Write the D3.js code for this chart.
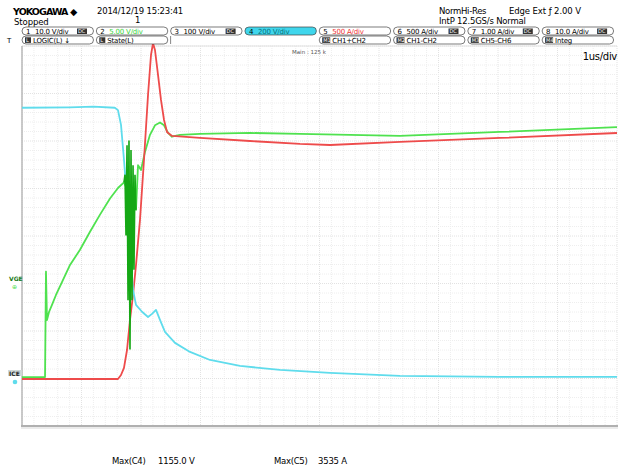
<!DOCTYPE html>
<html>
<head>
<meta charset="utf-8">
<script src="https://cdn.jsdelivr.net/npm/d3@7/dist/d3.min.js"></script>
<style>
  body { margin: 0; background: #fff; }
  svg { display: block; font-family: "DejaVu Sans", "Liberation Sans", sans-serif; }
</style>
</head>
<body>
<svg id="scope" width="619" height="470"></svg>
<script>
// waveform data: [time in us, value in channel units]
const vce = [ // C4, V
  [0, 1150], [0.8, 1152], [1.2, 1155], [1.56, 1150], [1.613, 1140], [1.664, 1078], [1.714, 931],
  [1.765, 762], [1.815, 552], [1.866, 383], [1.916, 320], [2.017, 291],
  [2.118, 269], [2.185, 282], [2.252, 299], [2.319, 257], [2.403, 206],
  [2.571, 160], [2.824, 122], [3.16, 88], [3.664, 63], [4.336, 46],
  [5.176, 34], [6.353, 21], [8.034, 17], [10, 17]
];
const ice = [ // C5, A
  [0, 0], [1.613, 0], [1.664, 42], [1.714, 116], [1.765, 305], [1.815, 621],
  [1.866, 884], [1.916, 1200], [1.983, 1674], [2.05, 2305], [2.118, 2989],
  [2.168, 3410], [2.202, 3535], [2.235, 3463], [2.286, 3200], [2.336, 2937],
  [2.387, 2726], [2.437, 2600], [2.521, 2558], [2.992, 2537], [3.832, 2505],
  [4.672, 2474], [5.176, 2463], [6.353, 2495], [8.034, 2537], [10, 2589]
];
const vge = [ // C2, V
  [0, -9.9], [0.387, -9.9], [0.403, 1.2], [0.42, -3.9], [0.454, -3.05],
  [0.504, -2.3], [0.571, -1.26], [0.672, 0.1], [0.807, 1.9], [0.975, 3.5],
  [1.143, 5.4], [1.311, 7.2], [1.479, 8.9], [1.613, 10.0], [1.714, 10.6],
  [1.916, 7.7], [1.95, 12.4], [2.0, 11.9], [2.067, 13.8], [2.151, 15.6],
  [2.235, 16.6], [2.319, 16.9], [2.387, 16.6], [2.454, 15.8], [2.521, 15.4],
  [2.655, 15.6], [2.992, 15.7], [3.832, 15.8], [4.672, 15.7], [6.353, 15.5],
  [8.034, 15.9], [10, 16.4]
];
const vgeRing = [ // gate oscillation burst during turn-on
  [1.714, 10.6], [1.731, 11.4], [1.748, 5.0], [1.765, 14.5], [1.782, -1.8],
  [1.798, 15.0], [1.815, -7.0], [1.832, 14.0], [1.849, -1.8], [1.866, 12.4],
  [1.882, 1.4], [1.899, 11.4], [1.916, 7.7]
];
// channel settings: per-div scale and ground position (divisions from centre)
const channels = [
  {name: "C2", data: vge, perDiv: 5, ground: -0.99, color: "#4fe24f"},
  {name: "C5", data: ice, perDiv: 500, ground: -3.01, color: "#ee4b4b"},
  {name: "C4", data: vce, perDiv: 200, ground: -3.05, color: "#5fdcec"}
];
const rowOne = [
  ["1", "10.0 V/div", "DC", "#000", null],
  ["2", "5.00 V/div", "DC", "#3bd43b", null],
  ["3", "100 V/div", "DC", "#000", null],
  ["4", "200 V/div", "DC", "#0a6f7a", "#3fd6ec"],
  ["5", "500 A/div", "DC", "#e33", null],
  ["6", "500 A/div", "DC", "#000", null],
  ["7", "1.00 A/div", "DC", "#000", null],
  ["8", "10.0 A/div", "DC", "#000", null]
];
const rowTwo = ["L LOGIC(L)  \u2193", "L State(L)", "", "", "M1 CH1+CH2", "M2 CH1-CH2", "M3 CH5-CH6", "M4 Integ"];
const maxLabels = [["Max(C4)", "1155.0 V"], ["Max(C5)", "3535 A"]];

const svg = d3.select("#scope");
const pLeft = 22, pRight = 617, pTop = 46, pBottom = 426;
const x = d3.scaleLinear().domain([0, 10]).range([pLeft, pRight]);
const y = d3.scaleLinear().domain([-4, 4]).range([pBottom, pTop]);

// grid
const grid = svg.append("g");
grid.selectAll(".vminor").data(d3.range(0, 10.01, 0.2)).enter().append("line")
  .attr("x1", d => x(d)).attr("x2", d => x(d)).attr("y1", pTop).attr("y2", pBottom)
  .attr("stroke", d => Math.abs(d - Math.round(d)) < 1e-6 ? "#e2e2e2" : "#eeeeee")
  .attr("stroke-dasharray", "1,1");
grid.selectAll(".hminor").data(d3.range(-4, 4.01, 0.2)).enter().append("line")
  .attr("y1", d => y(d)).attr("y2", d => y(d)).attr("x1", pLeft).attr("x2", pRight)
  .attr("stroke", d => Math.abs(d - Math.round(d)) < 1e-6 ? "#e2e2e2" : "#eeeeee")
  .attr("stroke-dasharray", "1,1");
svg.append("line").attr("x1", pLeft).attr("x2", pRight).attr("y1", pTop).attr("y2", pTop).attr("stroke", "#e2e2e2");
svg.append("line").attr("x1", pLeft).attr("x2", pLeft).attr("y1", pTop).attr("y2", pBottom).attr("stroke", "#b8b8b8").attr("stroke-width", 1.5);
svg.append("line").attr("x1", pLeft - 1).attr("x2", pRight + 1).attr("y1", pBottom).attr("y2", pBottom).attr("stroke", "#b0b0b0").attr("stroke-width", 2);
svg.append("line").attr("x1", pLeft - 1).attr("x2", pRight + 1).attr("y1", pBottom + 2).attr("y2", pBottom + 2).attr("stroke", "#e4e4e4").attr("stroke-width", 1.5);

// traces
function lineFor(ch) {
  return d3.line().x(d => x(d[0])).y(d => y(d[1] / ch.perDiv + ch.ground));
}
channels.forEach(ch => {
  svg.append("path").datum(ch.data).attr("d", lineFor(ch))
    .attr("fill", "none").attr("stroke", ch.color).attr("stroke-width", 1.8)
    .attr("stroke-linejoin", "round");
});
svg.append("path").datum(vgeRing).attr("d", lineFor(channels[0]))
  .attr("fill", "none").attr("stroke", "#15a815").attr("stroke-width", 1.6);

// header
svg.append("text").attr("x", 13).attr("y", 14.5).attr("font-size", 9.5).attr("font-weight", "bold")
  .attr("letter-spacing", -0.9).text("YOKOGAWA \u25C6");
svg.append("text").attr("x", 97).attr("y", 14).attr("font-size", 8.5).attr("letter-spacing", -0.2).text("2014/12/19 15:23:41");
svg.append("text").attr("x", 14).attr("y", 24.5).attr("font-size", 8.5).attr("letter-spacing", -0.1).text("Stopped");
svg.append("text").attr("x", 135).attr("y", 23).attr("font-size", 8.5).text("1");
svg.append("text").attr("x", 439).attr("y", 14).attr("font-size", 8.5).attr("letter-spacing", -0.3).text("NormHi-Res");
svg.append("text").attr("x", 509).attr("y", 14).attr("font-size", 8.5).attr("letter-spacing", -0.1).text("Edge Ext \u0192 2.00 V");
svg.append("text").attr("x", 439).attr("y", 24).attr("font-size", 8.5).attr("letter-spacing", -0.2).text("IntP 12.5GS/s  Normal");
svg.append("text").attr("x", 7).attr("y", 43).attr("font-size", 7).text("T");

const boxW = 73.5, boxX0 = 22;
rowOne.forEach((b, i) => {
  const bx = boxX0 + i * 74.3;
  svg.append("rect").attr("x", bx).attr("y", 27).attr("width", boxW - 2).attr("height", 8)
    .attr("rx", 4).attr("fill", b[4] || "#fff").attr("stroke", "#444").attr("stroke-width", 0.7);
  svg.append("text").attr("x", bx + 4).attr("y", 33.8).attr("font-size", 7).text(b[0]);
  svg.append("text").attr("x", bx + 13).attr("y", 33.8).attr("font-size", 7).attr("letter-spacing", -0.2)
    .attr("fill", b[3]).text(b[1]);
  if (i !== 1 && i !== 3 && i !== 4) {
    svg.append("rect").attr("x", bx + 55).attr("y", 28.5).attr("width", 10).attr("height", 5.5).attr("fill", "#333");
    svg.append("text").attr("x", bx + 56).attr("y", 33.2).attr("font-size", 5).attr("fill", "#fff").text(b[2]);
  }
});
rowTwo.forEach((t, i) => {
  const bx = boxX0 + i * 74.3;
  if (i === 3) return;
  if (i === 2) {
    svg.append("line").attr("x1", bx).attr("x2", bx).attr("y1", 36).attr("y2", 44).attr("stroke", "#555").attr("stroke-width", 0.7);
    return;
  }
  svg.append("rect").attr("x", bx).attr("y", 36).attr("width", boxW - 2).attr("height", 8)
    .attr("rx", 4).attr("fill", "#fff").attr("stroke", "#444").attr("stroke-width", 0.7);
  const parts = t.split(" ");
  svg.append("rect").attr("x", bx + 3).attr("y", 37.3).attr("width", parts[0].length > 1 ? 8 : 6).attr("height", 5.6).attr("fill", "#333");
  svg.append("text").attr("x", bx + 4).attr("y", 42.2).attr("font-size", 5).attr("fill", "#fff").text(parts[0]);
  svg.append("text").attr("x", bx + (parts[0].length > 1 ? 13 : 11)).attr("y", 42.6).attr("font-size", 7)
    .attr("letter-spacing", -0.2).text(parts.slice(1).join(" "));
});

svg.append("text").attr("x", 292).attr("y", 54).attr("font-size", 5.5).attr("fill", "#555").text("Main : 125 k");
svg.append("text").attr("x", 617).attr("y", 60).attr("font-size", 10).attr("text-anchor", "end").attr("letter-spacing", -0.3).text("1us/div");

// ground markers
svg.append("text").attr("x", 9).attr("y", 281).attr("font-size", 6).attr("font-weight", "bold").attr("fill", "#1a7a1a").text("VGE");
svg.append("text").attr("x", 12).attr("y", 289).attr("font-size", 6).attr("fill", "#4fe24f").text("\u2295");
svg.append("rect").attr("x", 8).attr("y", 370).attr("width", 14).attr("height", 6).attr("fill", "#cfd8d8");
svg.append("text").attr("x", 9).attr("y", 375.5).attr("font-size", 6).attr("font-weight", "bold").attr("fill", "#222").text("ICE");
svg.append("circle").attr("cx", 15).attr("cy", 382).attr("r", 2.3).attr("fill", "#5fdcec");

// measurements
maxLabels.forEach((m, i) => {
  const mx = [112, 274][i];
  svg.append("text").attr("x", mx).attr("y", 464).attr("font-size", 8.5).attr("letter-spacing", -0.3).text(m[0]);
  svg.append("text").attr("x", mx + [46, 44][i]).attr("y", 464).attr("font-size", 8.5).attr("letter-spacing", -0.2).text(m[1]);
});
</script>
</body>
</html>
